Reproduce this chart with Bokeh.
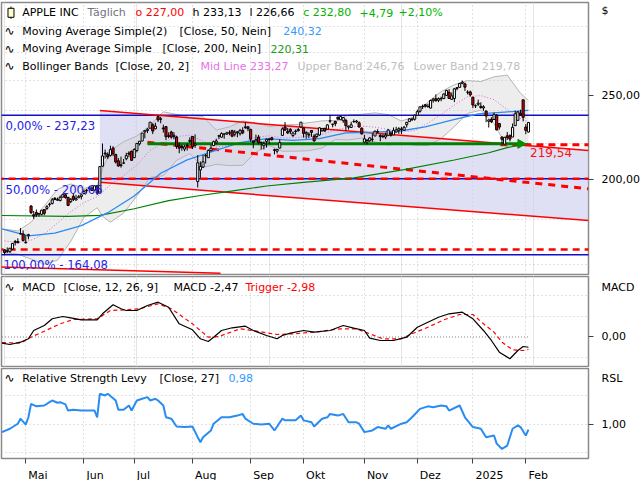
import math
from bokeh.plotting import figure
from bokeh.layouts import column
from bokeh.models import Range1d, FixedTicker, Label, Grid, ColumnDataSource
from bokeh.embed import file_html
from bokeh.resources import INLINE

# ---------------- data (trading-day index 0 = 19.04.2024 ... 198 = 04.02.2025) ----------------
opens = [166.21, 165.52, 165.35, 166.54, 169.53, 169.88, 173.37, 173.33, 169.58, 172.51,
         186.65, 182.35, 183.45, 182.85, 182.56, 184.90, 185.44, 187.51, 187.91, 190.47,
         189.51, 189.33, 191.09, 192.27, 190.98, 188.82, 191.51, 189.61, 190.76, 191.44,
         192.90, 194.64, 195.40, 195.69, 194.65, 196.90, 193.65, 207.37, 214.74, 213.85,
         213.37, 217.59, 213.93, 210.39, 207.72, 209.15, 211.50, 214.69, 215.77, 212.09,
         216.15, 220.00, 221.65, 227.09, 227.93, 229.30, 231.39, 228.92, 236.48, 235.00,
         229.45, 230.28, 224.82, 227.01, 224.37, 224.00, 218.93, 218.70, 216.96, 219.19,
         221.44, 224.37, 219.15, 199.09, 205.30, 206.90, 213.11, 212.10, 216.07, 219.01,
         220.57, 224.60, 223.92, 225.72, 225.77, 226.52, 227.79, 225.66, 226.76, 226.00,
         227.92, 230.10, 230.19, 228.55, 221.66, 221.63, 223.95, 220.82, 218.92, 221.46,
         222.50, 223.58, 216.54, 215.75, 217.55, 224.99, 229.97, 227.34, 228.65, 224.93,
         227.30, 228.46, 230.04, 229.52, 225.89, 225.14, 227.90, 224.50, 224.30, 225.23,
         227.78, 229.30, 228.70, 233.61, 231.60, 233.43, 236.18, 234.45, 233.89, 234.08,
         229.98, 229.74, 233.32, 233.10, 232.61, 229.34, 220.97, 220.99, 221.80, 222.61,
         224.63, 227.17, 225.00, 224.55, 224.01, 225.02, 226.40, 225.25, 226.98, 228.06,
         228.88, 228.06, 231.46, 233.33, 234.47, 234.81, 237.27, 239.81, 242.87, 243.99,
         242.91, 241.83, 246.89, 247.96, 246.89, 247.82, 247.99, 250.08, 252.16, 247.50,
         248.04, 254.77, 255.49, 258.19, 257.83, 252.23, 252.44, 248.93, 243.36, 244.31,
         242.98, 241.92, 240.01, 233.53, 234.75, 234.64, 237.35, 232.12, 224.00, 219.79,
         224.74, 224.78, 224.02, 230.85, 234.12, 238.67, 247.19, 229.99, 227.00]
highs = [166.40, 167.26, 167.05, 169.30, 170.61, 171.34, 176.03, 174.99, 172.71, 173.42,
         187.00, 184.20, 184.90, 183.07, 184.66, 185.09, 187.10, 188.30, 190.65, 191.10,
         190.81, 191.92, 192.73, 192.82, 191.00, 190.58, 193.00, 192.25, 192.18, 192.57,
         194.99, 195.32, 196.90, 196.50, 196.94, 197.30, 207.16, 220.20, 216.75, 215.17,
         218.95, 218.63, 214.24, 211.89, 212.70, 211.38, 214.86, 215.74, 216.07, 217.51,
         220.38, 221.55, 226.45, 227.85, 229.40, 233.08, 232.39, 232.64, 237.23, 236.27,
         231.46, 230.44, 226.80, 227.78, 226.94, 224.80, 220.85, 219.49, 219.30, 220.33,
         223.82, 224.48, 225.60, 213.50, 209.99, 213.64, 214.20, 216.78, 219.51, 221.89,
         223.03, 225.35, 226.83, 225.99, 227.17, 227.98, 228.34, 228.22, 227.28, 228.85,
         229.86, 232.92, 230.40, 229.00, 221.78, 225.48, 225.24, 221.27, 221.48, 223.09,
         223.55, 224.04, 217.22, 216.90, 222.71, 229.82, 233.09, 229.45, 229.35, 227.29,
         228.50, 229.52, 233.00, 229.65, 227.37, 226.81, 228.00, 225.69, 225.98, 229.75,
         229.50, 229.41, 231.73, 237.49, 232.12, 233.85, 236.18, 236.85, 236.22, 235.14,
         230.82, 233.22, 234.73, 234.33, 233.47, 229.83, 225.35, 222.79, 223.95, 226.07,
         227.88, 228.66, 225.70, 225.59, 226.65, 228.87, 226.92, 229.74, 230.16, 229.93,
         230.16, 230.72, 233.25, 235.57, 235.69, 237.81, 240.79, 242.76, 244.11, 244.54,
         244.63, 247.24, 248.21, 250.80, 248.74, 249.29, 251.38, 253.83, 254.28, 252.00,
         255.00, 255.65, 258.21, 260.10, 258.70, 253.50, 253.28, 249.10, 244.18, 247.33,
         245.55, 243.71, 240.16, 234.67, 236.12, 238.96, 238.01, 232.29, 224.42, 224.12,
         227.03, 225.63, 232.15, 240.19, 239.86, 240.79, 247.19, 231.83, 233.13]
lows = [164.08, 164.77, 164.92, 166.21, 168.15, 169.18, 173.10, 170.00, 169.11, 170.89,
        182.66, 180.42, 181.32, 181.45, 182.11, 182.13, 184.62, 186.29, 187.37, 189.66,
        189.18, 189.01, 190.92, 190.27, 186.63, 188.04, 189.10, 189.51, 190.63, 189.91,
        192.52, 193.03, 194.87, 194.17, 194.14, 192.15, 193.63, 206.90, 211.60, 211.30,
        212.72, 213.00, 208.85, 207.11, 206.59, 208.61, 210.64, 212.35, 210.30, 211.92,
        215.10, 219.03, 221.65, 223.25, 226.37, 229.25, 225.77, 228.68, 233.09, 232.33,
        226.64, 222.27, 223.28, 223.09, 222.68, 217.13, 214.62, 216.01, 215.75, 216.12,
        220.63, 217.02, 217.71, 196.00, 201.07, 206.39, 208.83, 211.97, 215.60, 219.01,
        219.70, 222.76, 223.65, 223.04, 225.45, 225.05, 223.90, 224.33, 223.89, 224.89,
        225.68, 228.88, 227.48, 221.17, 217.48, 221.52, 219.77, 216.71, 216.73, 217.89,
        219.82, 221.91, 213.92, 214.50, 217.54, 224.63, 227.62, 225.81, 225.73, 224.02,
        225.41, 227.30, 229.65, 223.74, 223.02, 223.32, 224.13, 221.33, 223.25, 224.83,
        227.17, 227.34, 228.60, 232.37, 229.84, 230.52, 234.01, 234.45, 232.60, 227.76,
        228.41, 229.57, 232.55, 232.32, 229.55, 225.37, 220.27, 219.71, 221.14, 221.19,
        224.57, 226.41, 221.50, 223.36, 222.76, 225.00, 224.27, 225.17, 226.66, 225.89,
        225.71, 228.06, 229.74, 233.33, 233.81, 233.97, 237.16, 238.90, 241.25, 242.13,
        242.08, 241.75, 245.34, 246.26, 245.68, 246.24, 247.65, 249.78, 247.74, 247.09,
        245.69, 253.45, 255.29, 257.63, 253.06, 250.75, 249.43, 241.82, 241.89, 243.20,
        241.35, 240.05, 233.00, 229.72, 232.47, 234.43, 228.03, 228.48, 219.38, 219.79,
        222.30, 221.41, 223.98, 230.81, 234.01, 237.21, 233.44, 225.70, 226.66]
closes = [165.00, 165.84, 166.90, 169.02, 169.89, 169.30, 173.50, 170.33, 169.30, 173.03,
          183.38, 181.71, 182.40, 182.74, 184.57, 183.05, 186.28, 187.43, 189.72, 189.84,
          189.87, 191.04, 192.35, 190.90, 186.88, 189.98, 189.99, 190.29, 191.29, 192.25,
          194.03, 194.35, 195.87, 194.48, 196.89, 193.12, 207.15, 213.07, 214.24, 212.49,
          216.67, 214.29, 209.68, 207.49, 208.14, 209.07, 213.25, 214.10, 210.62, 216.75,
          220.27, 221.55, 226.34, 227.82, 228.68, 232.98, 227.57, 230.54, 234.40, 234.82,
          228.88, 224.18, 224.31, 223.96, 225.01, 218.54, 217.49, 217.96, 218.24, 218.80,
          222.08, 218.36, 219.86, 209.27, 207.23, 209.82, 213.31, 216.24, 217.53, 221.27,
          221.72, 224.72, 226.05, 225.89, 226.51, 226.40, 224.53, 226.84, 227.18, 228.03,
          226.49, 229.79, 229.00, 222.77, 220.85, 222.38, 220.82, 220.91, 220.11, 222.66,
          222.77, 222.50, 216.32, 216.79, 220.69, 228.87, 228.20, 226.47, 227.37, 226.37,
          227.52, 227.79, 233.00, 226.21, 226.78, 225.67, 226.80, 221.69, 225.77, 229.54,
          229.04, 227.55, 231.30, 233.85, 231.78, 232.15, 235.00, 236.48, 235.86, 230.76,
          230.57, 231.41, 233.40, 233.67, 230.10, 225.91, 222.91, 222.01, 223.45, 222.72,
          227.48, 226.96, 224.23, 224.23, 225.12, 228.22, 225.00, 228.02, 228.28, 229.00,
          228.52, 229.87, 232.87, 235.06, 234.93, 237.33, 239.59, 242.65, 243.01, 243.04,
          242.84, 246.75, 247.77, 246.49, 247.96, 248.13, 251.04, 253.48, 248.05, 249.79,
          254.49, 255.27, 258.20, 259.02, 255.59, 252.20, 250.42, 243.85, 243.36, 245.00,
          242.21, 242.70, 236.85, 234.40, 233.28, 237.87, 228.26, 229.98, 222.64, 223.83,
          223.66, 222.78, 229.86, 238.26, 239.36, 237.59, 236.00, 228.01, 232.80]

month_ticks = [8, 30, 49, 71, 93, 113, 136, 156, 177, 197]
month_labels = ["Mai", "Jun", "Jul", "Aug", "Sep", "Okt", "Nov", "Dez", "2025", "Feb"]

ma50_idx = [-1, 9, 19, 29, 39, 49, 59, 69, 79, 89, 99, 109, 119, 129, 139, 149, 159, 169, 179, 189, 198]
ma50_val = [175.63, 172.41, 173.69, 177.17, 183.36, 191.68, 203.53, 210.86, 215.86, 220.70, 223.02,
            222.05, 223.11, 226.49, 226.86, 227.47, 230.08, 234.31, 238.19, 239.30, 240.32]

ma200_idx = [-1, 24, 36, 49, 62, 74, 87, 99, 112, 132, 151, 170, 183, 190, 198]
ma200_val = [182.0, 181.6, 182.1, 185.3, 189.3, 191.9, 194.4, 196.8, 198.6, 201.1, 205.5, 210.8, 214.9, 217.8, 220.31]

bb_idx = [0, 5, 10, 15, 20, 25, 30, 35, 37, 40, 45, 50, 55, 60, 65, 70, 75, 80, 85, 90,
          95, 100, 105, 110, 115, 120, 125, 130, 135, 140, 145, 150, 155, 160, 165, 170, 175, 180, 185, 190, 195, 198]
bb_mid = [170.2, 169.47, 170.5, 173.35, 178.4, 183.9, 188.33, 191.34, 193.67, 197.37, 202.24, 208.1, 216.23, 220.86,
          224.23, 225.2, 221.57, 218.26, 218.94, 220.86, 223.88, 224.74, 223.5, 223.66, 224.39, 225.67, 228.24, 229.88,
          230.63, 229.92, 228.52, 227.03, 227.81, 232.44, 237.86, 243.76, 249.27, 249.95, 247.35, 240.93, 235.31, 233.27]
bb_up = [175.5, 174.7, 178.8, 186.65, 195.1, 197.85, 195.6, 196.9, 205.75, 215.9, 221.3, 224.6, 231.2, 239.5,
         237.8, 236.0, 236.45, 228.2, 230.1, 233.8, 232.5, 230.4, 231.3, 231.5, 232.7, 233.8, 234.0, 237.5,
         237.9, 238.8, 237.7, 233.7, 236.4, 245.9, 252.6, 257.3, 260.1, 259.45, 262.7, 263.9, 251.5, 246.76]
bb_lo = [164.9, 164.3, 162.2, 160.05, 161.7, 169.95, 181.1, 185.8, 181.6, 178.8, 183.2, 191.6, 201.3, 202.2,
         210.6, 214.4, 206.7, 208.4, 207.7, 207.9, 215.3, 219.1, 215.7, 215.8, 216.05, 217.6, 222.5, 222.3,
         223.35, 221.1, 219.3, 220.4, 219.2, 219.0, 223.1, 230.3, 238.5, 240.45, 232.0, 218.0, 219.1, 219.78]

# drawings on the price chart
fib_levels = [237.23, 200.66, 164.08]
fib_texts = ["0,00% - 237,23", "50,00% - 200,66", "100,00% - 164,08"]
channel_x = [36, 220.7]
channel_upper = [240.3, 216.1]
channel_lower = [198.7, 179.6]
lower_red_x = [-1.2, 81.6]
lower_red_y = [158.8, 156.2]
red_dash_levels = [200.66, 166.3]
slope_dash_x = [54, 220.7]
slope_dash_y = [220.9, 195.3]
mark_level = 219.54
mark_x = [187.4, 222]
support_level = 220.0
support_x = [54, 195]

macd_idx = [-1, 2, 6, 9, 11, 15, 18, 22, 25, 29, 35, 37, 41, 44, 46, 50, 54, 58, 62, 66, 71, 74, 77, 79, 82, 86, 91, 94,
            99, 103, 105, 108, 113, 117, 123, 128, 132, 136, 138, 142, 147, 152, 156, 160, 164, 168, 173, 177, 181, 184,
            187, 191, 194, 196, 198]
macd_val = [-1.49, -1.81, -1.25, -0.43, 1.57, 2.77, 4.39, 4.94, 4.63, 4.14, 4.14, 5.59, 7.76, 6.80, 6.39, 6.39, 7.59,
            8.39, 7.18, 3.18, 1.73, -0.43, -1.08, -0.05, 1.57, 2.22, 2.60, 1.57, 0.36, -0.43, 0.36, 0.92, 1.57, 1.16,
            1.57, 2.77, 2.12, 1.57, -0.29, -0.84, -0.84, -0.05, 2.36, 3.57, 4.77, 5.59, 5.98, 4.39, 1.57, -0.84,
            -3.66, -5.25, -3.25, -2.29, -2.47]
trig_idx = [-1, 6, 10, 15, 21, 26, 35, 40, 46, 51, 58, 63, 71, 77, 81, 89, 96, 103, 109, 117, 127, 133, 138, 143,
            150, 154, 160, 166, 172, 177, 181, 185, 188, 192, 196, 198]
trig_val = [-1.33, -1.49, -0.05, 1.40, 3.18, 4.22, 4.39, 6.39, 6.55, 6.80, 8.0, 6.80, 3.18, -0.05, 0.12, 1.98, 1.33,
            0.60, 0.77, 1.16, 1.98, 1.98, 0.77, -0.43, -0.43, 0.77, 2.36, 4.14, 5.42, 5.42, 3.18, 1.16, -1.25, -3.08,
            -3.25, -2.98]

rsl_idx = [-1, 2, 5, 6, 8, 9, 10, 12, 15, 17, 18, 20, 21, 23, 24, 26, 29, 34, 35, 36, 38, 39, 42, 43, 45, 47, 48, 50,
           52, 54, 55, 57, 58, 60, 61, 63, 65, 68, 71, 73, 74, 75, 78, 79, 82, 85, 88, 90, 91, 94, 97, 100, 102, 105,
           106, 110, 112, 113, 116, 117, 120, 122, 123, 126, 128, 130, 133, 134, 136, 139, 141, 144, 145, 146, 150,
           152, 154, 157, 160, 162, 165, 167, 168, 172, 174, 177, 180, 182, 185, 186, 188, 190, 192, 194, 195, 197, 198]
rsl_val = [0.971, 0.983, 1.001, 1.019, 0.998, 1.024, 1.072, 1.063, 1.066, 1.078, 1.084, 1.076, 1.078, 1.070, 1.048,
           1.051, 1.048, 1.048, 1.024, 1.108, 1.102, 1.108, 1.084, 1.051, 1.051, 1.066, 1.048, 1.084, 1.090, 1.096,
           1.084, 1.090, 1.084, 1.066, 1.024, 1.019, 0.991, 0.989, 0.991, 0.953, 0.935, 0.953, 0.977, 1.001, 1.024,
           1.024, 1.030, 1.036, 1.019, 1.001, 0.998, 1.001, 0.977, 1.019, 1.013, 1.013, 1.030, 1.013, 1.006, 0.991,
           1.019, 1.024, 1.036, 1.030, 1.036, 1.006, 1.006, 1.001, 0.971, 0.977, 0.989, 0.983, 0.995, 0.983, 1.001,
           1.006, 1.024, 1.054, 1.063, 1.060, 1.066, 1.063, 1.048, 1.066, 1.024, 0.989, 0.983, 0.953, 0.959, 0.930,
           0.911, 0.923, 0.983, 0.995, 0.989, 0.959, 0.980]

# ---------------- styling / layout ----------------
FONT = "DejaVu Sans"
GRID = "#c4c4c4"
TICK = "#404040"
xr = Range1d(-1.17, 220.7)


def make_fig(fh, yr, top, bottom, xaxis=False, log=False):
    p = figure(frame_width=587, frame_height=fh, x_range=xr, y_range=yr,
               y_axis_type="log" if log else "linear",
               output_backend="svg", toolbar_location=None,
               x_axis_location="below" if xaxis else None, y_axis_location="right",
               min_border_left=1, min_border_right=52, min_border_top=top, min_border_bottom=bottom)
    p.outline_line_color = "#8a8a8a"
    p.outline_line_width = 1.5
    p.background_fill_color = "white"
    p.border_fill_color = "white"
    ax = p.yaxis[0]
    ax.axis_line_color = None
    ax.major_tick_out = 0
    ax.major_tick_in = 0
    ax.major_tick_line_color = None
    ax.minor_tick_out = 5
    ax.minor_tick_in = 0
    ax.minor_tick_line_color = TICK
    ax.major_label_standoff = 8
    ax.major_label_text_font = FONT
    ax.major_label_text_font_size = "11px"
    ax.major_label_text_color = "black"
    p.ygrid.grid_line_color = GRID
    p.ygrid.grid_line_dash = "1 3"
    if xaxis:
        p.xgrid.ticker = FixedTicker(ticks=month_ticks)
        p.xgrid.grid_line_color = GRID
        p.xgrid.grid_line_dash = "1 3"
    else:
        p.add_layout(Grid(dimension=0, ticker=FixedTicker(ticks=month_ticks),
                          grid_line_color=GRID, grid_line_dash="1 3"))
    return p


def lab(p, x, y, text, color="black", size="11px", align="left"):
    p.add_layout(Label(x=x, y=y, text=text, text_color=color, text_font=FONT,
                       text_font_size=size, text_align=align, text_baseline="middle"))


# ---------------- price panel (frame y 2..274) ----------------
p1 = make_fig(272, Range1d(155.7, 319.8), 2, 1, log=True)
p1.yaxis[0].ticker = FixedTicker(ticks=[200, 250, 313], minor_ticks=[200, 250])
p1.yaxis[0].major_label_overrides = {200: "200,00", 250: "250,00", 313: "$"}
p1.ygrid.ticker = FixedTicker(ticks=[160, 180, 200, 220, 240, 260, 280, 300])

# channel shading
p1.patch(x=[channel_x[0], channel_x[1], channel_x[1], channel_x[0]],
         y=[channel_upper[0], channel_upper[1], channel_lower[1], channel_lower[0]],
         fill_color="#d0d0f0", fill_alpha=0.65, line_color=None)
# Bollinger band
p1.varea(x=bb_idx, y1=bb_lo, y2=bb_up, fill_color="#d0d0d0", fill_alpha=0.38)
p1.line(bb_idx, bb_up, line_color="#b4b4b4", line_width=1)
p1.line(bb_idx, bb_lo, line_color="#b4b4b4", line_width=1)
p1.line(bb_idx, bb_mid, line_color="#e060e0", line_width=1, line_dash="1 2")

# fibonacci levels
for lv in fib_levels:
    p1.segment(x0=[-3], y0=[lv], x1=[225], y1=[lv], line_color="#1010c8", line_width=1.5)
# red dashed horizontals
for lv in red_dash_levels:
    p1.segment(x0=[-3], y0=[lv], x1=[225], y1=[lv], line_color="#ff0000", line_width=2.5, line_dash="7 5")
p1.segment(x0=[mark_x[0]], y0=[mark_level], x1=[mark_x[1]], y1=[mark_level],
           line_color="#ff0000", line_width=3, line_dash="7 5")
p1.line(slope_dash_x, slope_dash_y, line_color="#ff0000", line_width=3, line_dash="7 6")
# channel lines
p1.line(channel_x, channel_upper, line_color="#ff0000", line_width=1.5)
p1.line(channel_x, channel_lower, line_color="#ff0000", line_width=1.5)
p1.line(lower_red_x, lower_red_y, line_color="#ff0000", line_width=1.5)
# moving averages
p1.line(ma200_idx, ma200_val, line_color="#008000", line_width=1.2)
p1.line(ma50_idx, ma50_val, line_color="#2a8cf0", line_width=1.3)
# support line with arrow
p1.line(support_x, [support_level, support_level], line_color="#008000", line_width=3)
p1.scatter(x=[support_x[1]], y=[support_level], marker="triangle", size=9, angle=-math.pi / 2,
           fill_color="#009000", line_color="#009000")

# candles
n = len(closes)
src = ColumnDataSource(dict(
    x=list(range(n)), o=opens, h=highs, l=lows, c=closes,
    top=[max(o, c) for o, c in zip(opens, closes)],
    bottom=[min(o, c) for o, c in zip(opens, closes)],
    fill=["white" if c >= o else "#e00000" for o, c in zip(opens, closes)]))
p1.segment(x0="x", y0="l", x1="x", y1="h", source=src, line_color="black", line_width=1)
p1.vbar(x="x", top="top", bottom="bottom", width=0.8, fill_color="fill",
        line_color="black", line_width=1, source=src)

# fib labels and marker label
lab(p1, 0.34, 230.9, fib_texts[0], color="#2424e6", size="11.7px")
lab(p1, 0.34, 194.8, fib_texts[1], color="#2424e6", size="11.7px")
lab(p1, -0.42, 159.5, fib_texts[2], color="#2424e6", size="11.7px")
lab(p1, 198.6, 215.2, "219,54", color="#ff1010", size="12px")

# legend rows
r1, r2, r3, r4 = 311.2, 296.4, 282.9, 270.2
p1.segment(x0=[2.42], y0=[306.3], x1=[2.42], y1=[316.4], line_color="black", line_width=1)
p1.rect(x=[2.42], y=[311.2], width=6, height=9, width_units="screen", height_units="screen",
        fill_color="#ffffc8", line_color="black", line_width=1)
lab(p1, 6.65, r1, "APPLE INC")
lab(p1, 31.33, r1, "Täglich", color="#707080")
lab(p1, 49.47, r1, "o 227,00", color="#ff0000")
lab(p1, 71.01, r1, "h 233,13")
lab(p1, 92.55, r1, "l 226,66")
lab(p1, 112.85, r1, "c 232,80", color="#00b400")
lab(p1, 134.13, r1, "+4,79", color="#00b400")
lab(p1, 148.87, r1, "+2,10%", color="#00b400")
for ry in (r2, r3, r4):
    lab(p1, -0.04, ry, "∿", size="12px")
lab(p1, 6.65, r2, "Moving Average Simple(2)")
lab(p1, 66.10, r2, "[Close, 50, Nein]")
lab(p1, 105.29, r2, "240,32", color="#3399ff")
lab(p1, 6.65, r3, "Moving Average Simple")
lab(p1, 59.68, r3, "[Close, 200, Nein]")
lab(p1, 100.49, r3, "220,31", color="#1a9a1a")
lab(p1, 6.65, r4, "Bollinger Bands")
lab(p1, 41.91, r4, "[Close, 20, 2]")
lab(p1, 74.04, r4, "Mid Line 233,27", color="#e870e8")
lab(p1, 110.70, r4, "Upper Band 246,76", color="#c0c0c0")
lab(p1, 154.54, r4, "Lower Band 219,78", color="#c0c0c0")

# ---------------- MACD panel (frame y 276..366) ----------------
p2 = make_fig(90, Range1d(-7.11, 14.58), 1, 1)
p2.yaxis[0].ticker = FixedTicker(ticks=[0, 11.93], minor_ticks=[0])
p2.yaxis[0].major_label_overrides = {0: "0,00", 11.93: "MACD"}
p2.ygrid.ticker = FixedTicker(ticks=[-5, 5, 10])
p2.line([-1, 198], [0, 0], line_color="#808080", line_width=1, line_dash="1 2")
p2.line(trig_idx, trig_val, line_color="#ff0000", line_width=1.2, line_dash="4 3")
p2.line(macd_idx, macd_val, line_color="black", line_width=1.2)
lab(p2, -0.04, 11.93, "∿", size="12px")
lab(p2, 6.65, 11.93, "MACD")
lab(p2, 22.26, 11.93, "[Close, 12, 26, 9]")
lab(p2, 63.83, 11.93, "MACD -2,47")
lab(p2, 91.04, 11.93, "Trigger -2,98", color="#ff0000")

# ---------------- RSL panel (frame y 368..458) ----------------
p3 = make_fig(90, Range1d(0.8768, 1.1982), 1, 22, xaxis=True)
p3.yaxis[0].ticker = FixedTicker(ticks=[1.0, 1.1625], minor_ticks=[1.0])
p3.yaxis[0].major_label_overrides = {1.0: "1,00", 1.1625: "RSL"}
p3.ygrid.ticker = FixedTicker(ticks=[0.9, 1.0, 1.1])
p3.line(rsl_idx, rsl_val, line_color="#2a8cf0", line_width=2)
label_offsets = [4.57, 4.19, 3.44, 4.99, 4.88, 4.61, 4.99, 4.91, 6.24, 4.72]
label_centers = [round(t + o, 2) for t, o in zip(month_ticks, label_offsets)]
xa = p3.xaxis[0]
xa.ticker = FixedTicker(ticks=label_centers, minor_ticks=month_ticks)
xa.major_label_overrides = {c: s for c, s in zip(label_centers, month_labels)}
xa.major_label_text_font = FONT
xa.major_label_text_font_size = "11px"
xa.major_label_text_color = "black"
xa.major_label_standoff = 5
xa.axis_line_color = None
xa.major_tick_out = 0
xa.major_tick_in = 0
xa.major_tick_line_color = None
xa.minor_tick_out = 5
xa.minor_tick_in = 0
xa.minor_tick_line_color = TICK
lab(p3, -0.04, 1.1625, "∿", size="12px")
lab(p3, 6.65, 1.1625, "Relative Strength Levy")
lab(p3, 58.54, 1.1625, "[Close, 27]")
lab(p3, 84.62, 1.1625, "0,98", color="#3399ff")

layout = column(p1, p2, p3)
open("out.html", "w").write(file_html(layout, INLINE, title="APPLE INC"))
